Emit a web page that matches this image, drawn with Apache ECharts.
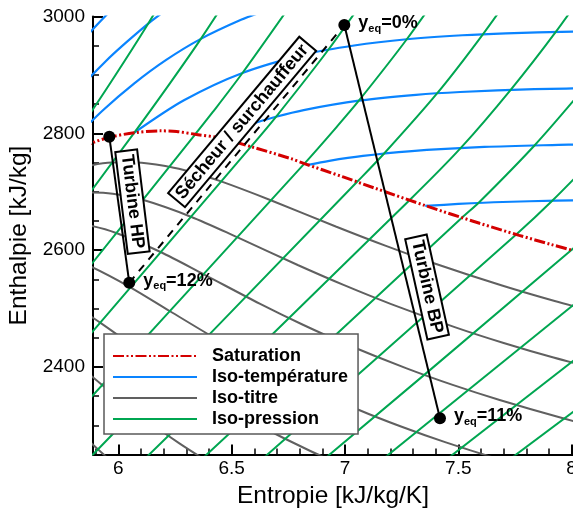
<!DOCTYPE html>
<html>
<head>
<meta charset="utf-8">
<script src="https://cdn.jsdelivr.net/npm/echarts@6/dist/echarts.min.js"></script>
<style>
html,body{margin:0;padding:0;background:#fff;}
#chart{width:573px;height:511px;}
</style>
</head>
<body>
<div id="chart"></div>
<script>
// ---------- DATA (entropy s [kJ/kg/K], enthalpy h [kJ/kg]) ----------
const xTickLabels = [6, 6.5, 7, 7.5, 8];
const xMinorTicks = [5.9, 6.1, 6.2, 6.3, 6.4, 6.6, 6.7, 6.8, 6.9, 7.1, 7.2, 7.3, 7.4, 7.6, 7.7, 7.8, 7.9];
const yTickLabels = [2400, 2600, 2800, 3000];
const yMinorTicks = [2300, 2350, 2450, 2500, 2550, 2650, 2700, 2750, 2850, 2900, 2950];

const legendNames = ['Saturation', 'Iso-température', 'Iso-titre', 'Iso-pression'];

// Saturated vapour curve
const saturation = [[5.7450,2758.7],[5.8892,2784.3],[5.9735,2794.3],[6.0696,2800.8],[6.1869,2804.2],[6.2575,2803.1],[6.3390,2798.3],[6.4448,2792.2],[6.5850,2777.1],[6.7600,2756.8],[6.8207,2748.1],[6.9917,2725.3],[7.1271,2706.7],[7.3594,2675.5],[7.5939,2645.9],[7.7686,2625.3],[7.9085,2609.7],[8.1502,2584.6]];

// Iso-temperature lines (400, 350, 300, 250, 200, 150, 100 °C)
const isoTemperature = [
  [[5.5540,2818.1],[5.7213,2902.9],[5.8811,2975.5],[6.0433,3040.4]],
  [[5.4424,2692.4],[5.7118,2826.2],[5.9443,2923.4],[6.1301,2987.3],[6.2283,3016.0]],
  [[5.7045,2749.0],[5.7906,2785.0],[5.9319,2839.4],[6.0703,2885.5],[6.2110,2925.7],[6.3639,2961.7],[6.5412,2994.3],[6.6459,3009.6]],
  [[6.0703,2801.0],[6.2893,2856.5],[6.5475,2903.3],[6.8293,2935.6],[7.0402,2950.4],[7.2725,2961.0],[7.5181,2967.9],[7.7100,2971.2],[8.0347,2974.5]],
  [[6.4302,2792.0],[6.5909,2816.1],[6.6955,2828.3],[6.8177,2839.8],[7.0611,2855.8],[7.3132,2865.9],[7.5081,2870.7],[7.8356,2875.5],[8.1592,2877.7]],
  [[6.8371,2745.9],[6.9306,2752.8],[7.0792,2761.2],[7.2810,2769.1],[7.6148,2776.6],[7.9413,2780.2],[8.0450,2780.8]],
  [[7.3542,2675.6],[7.5000,2679.0],[7.6953,2682.4],[7.9310,2684.6],[8.1180,2685.5]]
];

// Iso-quality lines (0.97, 0.94, 0.91, 0.88, 0.85, 0.82, 0.79)
const isoTitre = [
  [[5.6671,2714.7],[5.8033,2737.2],[5.9719,2750.0],[6.0807,2750.2],[6.2241,2742.8],[6.3209,2733.7],[6.4531,2717.6],[6.6725,2685.4],[6.9592,2640.5],[7.1777,2607.7],[7.3988,2576.7],[7.6963,2538.9],[7.9252,2512.8],[8.1575,2488.8]],
  [[5.5910,2671.5],[5.7175,2690.1],[5.8737,2698.6],[5.9744,2696.4],[6.1073,2686.1],[6.3196,2657.2],[6.5237,2622.2],[6.7913,2574.5],[6.9960,2540.0],[7.2037,2507.6],[7.4840,2468.2],[7.7001,2441.0],[7.9200,2416.1],[8.2158,2385.9]],
  [[5.6316,2643.0],[5.7755,2647.1],[5.8682,2642.5],[5.9905,2629.3],[6.1862,2596.7],[6.3748,2558.9],[6.6234,2508.4],[6.8143,2472.2],[7.0086,2438.4],[7.2717,2397.5],[7.4751,2369.2],[7.6824,2343.4],[7.9619,2312.1],[8.1773,2290.6]],
  [[5.6773,2595.7],[5.7620,2588.6],[5.8737,2572.6],[6.0528,2536.3],[6.2260,2495.7],[6.4555,2442.4],[6.6326,2404.5],[6.8136,2369.3],[7.0594,2326.7],[7.2501,2297.5],[7.4449,2270.7],[7.7081,2238.3]],
  [[5.5790,2544.3],[5.7569,2515.9],[5.9193,2475.8],[6.0772,2432.4],[6.2876,2376.3],[6.4509,2336.8],[6.6185,2300.1],[6.8471,2256.0],[7.0251,2225.7]],
  [[5.6401,2459.2],[5.7859,2415.3],[5.9284,2369.2],[6.1196,2310.3],[6.2692,2269.0],[6.4234,2230.9]],
  [[5.6525,2354.9],[5.7796,2305.9],[5.9517,2244.2]]
];

// Iso-pressure lines (80, 40, 20, 10, 5, 2.5, 1.25, 0.625, 0.3125, 0.156, 0.078, 0.039, 0.0195 bar)
const isoPression = [
  [[5.5000,2619.5],[5.7450,2758.7],[5.7942,2786.5],[5.9630,2885.3],[6.1319,2988.1],[6.3657,3139.4]],
  [[5.6000,2554.9],[6.0696,2800.8],[6.2305,2887.3],[6.3639,2961.7],[6.5843,3093.3]],
  [[5.6000,2439.4],[6.3390,2798.3],[6.4160,2836.1],[6.5475,2903.3],[6.7684,3024.2]],
  [[5.6000,2330.8],[6.5850,2777.1],[6.6955,2828.3],[6.9265,2943.1],[7.1246,3051.6]],
  [[5.6000,2229.3],[6.8207,2748.1],[6.9656,2812.0],[7.0611,2855.8],[7.2726,2961.0],[7.4614,3064.6]],
  [[5.7000,2174.7],[7.0525,2716.5],[7.1706,2764.5],[7.4062,2868.3],[7.6083,2969.5],[7.7932,3070.6]],
  [[5.9000,2160.6],[7.2844,2685.4],[7.5100,2774.5],[7.7310,2874.4],[7.9300,2973.6],[8.1130,3073.8]],
  [[6.1000,2145.5],[7.5156,2655.3],[7.5920,2681.9],[7.8370,2779.6],[8.0550,2877.3]],
  [[6.3000,2127.3],[7.7553,2626.8],[7.9120,2683.6],[8.1570,2780.6]],
  [[6.5000,2108.7],[7.9990,2600.1],[8.2330,2684.5]],
  [[6.8000,2126.7],[8.2291,2575.7]],
  [[7.0000,2106.4],[8.4823,2553.8]],
  [[7.3000,2117.8],[8.7294,2532.9]]
];

// Cycle states: HP turbine inlet, HP outlet, reheater outlet, LP outlet
const cycleStates = [[5.960,2794.2],[6.048,2544.2],[6.997,2985.4],[7.419,2312.0]];
const cycleLabels = ['', '12%', '0%', '11%'];
const cycleSegments = [[0,1],[1,2],[2,3]];
const segmentNames = ['Turbine HP', 'Sécheur / surchauffeur', 'Turbine BP'];
const segmentLabelAnchors = [[6.062,2682.9],[6.546,2819.4],[7.362,2536.8]];
const segmentLabelAngles = [-83, 50, -77.5];

// ---------- STYLE ----------
const FONT = '"Liberation Sans", Arial, Helvetica, sans-serif';
const COLORS = {sat:'#d40000', temp:'#0a84ff', titre:'#606060', pres:'#00a651'};

function curve(name, data, color, width, type, z) {
  return {
    name: name, type: 'line', data: data, symbol: 'none', showSymbol: false,
    smooth: 0.3, clip: true, silent: true,
    lineStyle: {color: color, width: width, type: type, opacity: 1},
    itemStyle: {color: color}, z: z, animation: false
  };
}

const series = [];
isoTitre.forEach(d => series.push(curve('Iso-titre', d, COLORS.titre, 2, 'solid', 2)));
isoTemperature.forEach(d => series.push(curve('Iso-température', d, COLORS.temp, 2.2, 'solid', 2)));
isoPression.forEach(d => series.push(curve('Iso-pression', d, COLORS.pres, 2, 'solid', 2)));
series.push(curve('Saturation', saturation, COLORS.sat, 3, [11,2.5,2,2.5,2,2.5], 3));

cycleSegments.forEach((seg, i) => {
  series.push({
    name: 'cycle' + i, type: 'line', symbol: 'none', silent: true, animation: false,
    data: [cycleStates[seg[0]], cycleStates[seg[1]]],
    lineStyle: {color: '#000', width: 2, type: i === 1 ? [8,7] : 'solid'},
    z: 4
  });
});

series.push({
  name: 'labels', type: 'scatter', silent: true, animation: false,
  symbolSize: 1, itemStyle: {color: '#fff', opacity: 1}, z: 6, zlevel: 1,
  data: segmentLabelAnchors.map((p, i) => ({
    value: p,
    label: {
      show: true, position: 'inside', rotate: segmentLabelAngles[i],
      formatter: segmentNames[i], opacity: 1,
      fontFamily: FONT, fontSize: 18, fontWeight: 'bold', color: '#000', lineHeight: 18,
      backgroundColor: '#ffffff', borderColor: '#000', borderWidth: 2, padding: [1,3,1,3]
    }
  }))
});

series.push({
  name: 'states', type: 'scatter', silent: true, animation: false,
  symbolSize: 12, itemStyle: {color: '#000', opacity: 1}, z: 7, zlevel: 1,
  data: cycleStates.map((p, i) => ({
    value: p,
    label: {
      show: cycleLabels[i] !== '', position: 'right', distance: 8, offset: [0, -2],
      formatter: '{m|y}{s|eq}{m|=' + cycleLabels[i] + '}',
      rich: {
        m: {fontFamily: FONT, fontSize: 18, fontWeight: 'bold', color: '#000'},
        s: {fontFamily: FONT, fontSize: 11, fontWeight: 'bold', color: '#000', padding: [11,0,0,0]}
      }
    }
  }))
});

const XMIN = 5.888, XMAX = 8.006, YMIN = 2250, YMAX = 3000;
const plainNum = v => String(v);

const option = {
  animation: false,
  backgroundColor: '#fff',
  grid: {left: 93, top: 16.5, width: 480, height: 438, containLabel: false, outerBoundsMode: 'none'},
  legend: {
    data: legendNames, orient: 'vertical', left: 104, top: 334,
    itemWidth: 84, itemHeight: 14, itemGap: 3,
    padding: [13, 10, 6, 8],
    backgroundColor: '#fff', borderColor: '#5a5a5a', borderWidth: 1.5,
    selectedMode: false,
    itemStyle: {opacity: 0},
    textStyle: {fontFamily: FONT, fontSize: 18, fontWeight: 'bold', color: '#000', lineHeight: 18, padding: [0,0,0,10]}
  },
  xAxis: [
    {
      type: 'value', min: XMIN, max: XMAX, position: 'bottom', splitLine: {show: false},
      axisLine: {show: true, onZero: false, lineStyle: {color: '#000', width: 2}},
      axisTick: {show: true, inside: true, length: 10, customValues: xTickLabels, lineStyle: {color: '#000', width: 2}},
      axisLabel: {show: true, customValues: xTickLabels, formatter: plainNum, margin: 5, fontFamily: FONT, fontSize: 19, color: '#000'},
      name: 'Entropie [kJ/kg/K]', nameLocation: 'middle', nameGap: 28,
      nameTextStyle: {fontFamily: FONT, fontSize: 24.5, color: '#000'}
    },
    {
      type: 'value', min: XMIN, max: XMAX, position: 'bottom', splitLine: {show: false},
      axisLine: {show: false, onZero: false},
      axisTick: {show: true, inside: true, length: 6, customValues: xMinorTicks, lineStyle: {color: '#000', width: 1.5}},
      axisLabel: {show: false}
    }
  ],
  yAxis: [
    {
      type: 'value', min: YMIN, max: YMAX, position: 'left', splitLine: {show: false},
      axisLine: {show: true, onZero: false, lineStyle: {color: '#000', width: 2}},
      axisTick: {show: true, inside: true, length: 10, customValues: yTickLabels, lineStyle: {color: '#000', width: 2}},
      axisLabel: {show: true, customValues: yTickLabels, formatter: plainNum, margin: 8, fontFamily: FONT, fontSize: 19, color: '#000'},
      name: 'Enthalpie [kJ/kg]', nameLocation: 'middle', nameGap: 51, nameRotate: 90,
      nameTextStyle: {fontFamily: FONT, fontSize: 24.5, color: '#000'}
    },
    {
      type: 'value', min: YMIN, max: YMAX, position: 'left', splitLine: {show: false},
      axisLine: {show: false, onZero: false},
      axisTick: {show: true, inside: true, length: 6, customValues: yMinorTicks, lineStyle: {color: '#000', width: 1.5}},
      axisLabel: {show: false}
    }
  ],
  series: series.map(s => Object.assign({xAxisIndex: 0, yAxisIndex: 0}, s))
};

const chart = echarts.init(document.getElementById('chart'), null, {renderer: 'canvas'});
chart.setOption(option);
</script>
</body>
</html>
